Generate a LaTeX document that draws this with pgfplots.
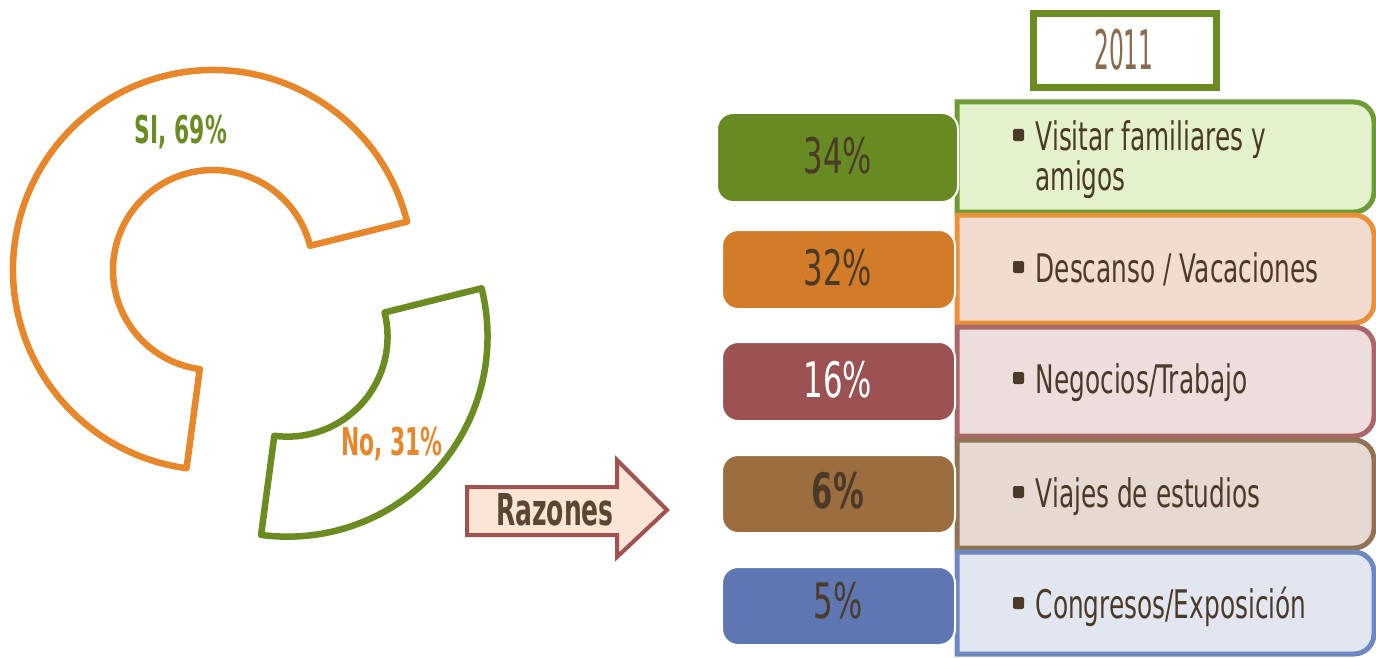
\documentclass[border=0pt]{standalone}
\usepackage{pgfplots}
\pgfplotsset{compat=1.18}
\usepackage{fontspec}
\setmainfont{DejaVu Sans}
\newfontfamily\agency[FakeStretch=0.63]{DejaVu Sans}
\newfontfamily\agencyb[FakeStretch=0.57]{DejaVu Sans}
\definecolor{dOrange}{HTML}{E8862A}
\definecolor{dGreen}{HTML}{6A8C21}
\definecolor{arrFill}{HTML}{FBE5D6}
\definecolor{arrDraw}{HTML}{A0524F}
\definecolor{txtDark}{HTML}{4B3A28}
\definecolor{txtRaz}{HTML}{5A4632}
\definecolor{yearTxt}{HTML}{8C6A4E}
\definecolor{tbFillA}{HTML}{E3F1CC}\definecolor{tbDrawA}{HTML}{6E9B35}
\definecolor{tbFillB}{HTML}{F2DCD0}\definecolor{tbDrawB}{HTML}{E8913A}
\definecolor{tbFillC}{HTML}{EDDEDD}\definecolor{tbDrawC}{HTML}{A9676A}
\definecolor{tbFillD}{HTML}{E5D9D1}\definecolor{tbDrawD}{HTML}{927255}
\definecolor{tbFillE}{HTML}{E1E6F1}\definecolor{tbDrawE}{HTML}{6E88C2}
\definecolor{pcA}{HTML}{678A22}
\definecolor{pcB}{HTML}{D27C29}
\definecolor{pcC}{HTML}{9C5152}
\definecolor{pcD}{HTML}{9C6D3F}
\definecolor{pcE}{HTML}{5E76B2}
% donut data (percent)
\def\valSI{69}
\def\valNo{31}
\def\startAng{14}
\pgfmathsetmacro\midAng{\startAng+3.6*\valSI}
\pgfmathsetmacro\endAng{\midAng+3.6*\valNo}
\pgfmathsetmacro\bisAng{(\midAng+\endAng)/2}
\pgfmathsetmacro\exCx{213+100*cos(\bisAng)}
\pgfmathsetmacro\exCy{387+100*sin(\bisAng)}
% annular sector: cx, cy, start, end, colour
\newcommand{\sector}[5]{%
  \draw[#5, line width=0.65mm, line join=round]
    (axis cs:{#1+200*cos(#3)},{#2+200*sin(#3)})
    arc[start angle=#3, end angle=#4, radius=20mm]
    -- (axis cs:{#1+100*cos(#4)},{#2+100*sin(#4)})
    arc[start angle=#4, end angle=#3, radius=10mm] -- cycle;}
% text box (right rounded): bottom, top, fill, draw
\newcommand{\tbox}[4]{%
  \draw[fill=#3, draw=#4, line width=0.5mm]
    (axis cs:957,#1) -- (axis cs:957,#2) [rounded corners=2mm] -- (axis cs:1374,#2) -- (axis cs:1374,#1) [sharp corners] -- cycle;}
% percent box: left, right, bottom, top, fill
\newcommand{\pbox}[5]{%
  \draw[fill=#5, draw=white, line width=0.2mm, rounded corners=1.6mm]
    (axis cs:#1,#3) rectangle (axis cs:#2,#4);}
\newcommand{\bul}[1]{%
  \fill[txtDark, rounded corners=0.2mm] (axis cs:1013,{#1-6}) rectangle (axis cs:1024,{#1+6});}
\tikzset{lab/.style={anchor=base west, inner sep=0pt, text=txtDark,
  font=\agency\fontsize{11.2}{13}\selectfont},
  pct/.style={anchor=base, inner sep=0pt, text=txtDark,
  font=\agency\fontsize{13.9}{16}\selectfont}}
\begin{document}
\begin{tikzpicture}
\begin{axis}[scale only axis, width=13.76cm, height=6.57cm,
  xmin=0, xmax=1376, ymin=0, ymax=657, hide axis, clip=true]
% donut
\sector{213}{387}{\startAng}{\midAng}{dOrange}
\sector{\exCx}{\exCy}{\midAng}{\endAng}{dGreen}
\node[anchor=base, inner sep=0pt, text=dGreen, font=\agencyb\bfseries\fontsize{10.9}{13}\selectfont] at (axis cs:181,514) {SI, \valSI\%};
\node[anchor=base, inner sep=0pt, text=dOrange, font=\agencyb\bfseries\fontsize{10.9}{13}\selectfont] at (axis cs:392,202) {No, \valNo\%};
% arrow
\draw[fill=arrFill, draw=arrDraw, line width=0.4mm, line join=miter]
  (axis cs:467,170) -- (axis cs:617,170) -- (axis cs:617,197) -- (axis cs:667,147)
  -- (axis cs:617,100) -- (axis cs:617,122) -- (axis cs:467,122) -- cycle;
\node[anchor=base, inner sep=0pt, text=txtRaz, font=\agencyb\bfseries\fontsize{12.5}{15}\selectfont] at (axis cs:555,132) {Razones};
% year box
\draw[fill=white, draw=dGreen, line width=0.7mm] (axis cs:1033,569) rectangle (axis cs:1216,643);
\node[anchor=base, inner sep=0pt, text=yearTxt, font=\agency\fontsize{15.5}{18}\selectfont] at (axis cs:1124,587) {\scalebox{0.68}[1]{2011}};
% text boxes
\tbox{445}{555}{tbFillA}{tbDrawA}
\tbox{334}{442}{tbFillB}{tbDrawB}
\tbox{221}{330}{tbFillC}{tbDrawC}
\tbox{109}{217}{tbFillD}{tbDrawD}
\tbox{3}{105}{tbFillE}{tbDrawE}
% percent boxes
\pbox{717}{958}{455}{544}{pcA}
\pbox{722}{955}{348}{427}{pcB}
\pbox{722}{955}{236}{315}{pcC}
\pbox{722}{955}{124}{202}{pcD}
\pbox{722}{955}{12}{90}{pcE}
\node[pct] at (axis cs:838,484) {34\%};
\node[pct] at (axis cs:838,372) {32\%};
\node[pct, text=white] at (axis cs:838,260) {16\%};
\node[pct, font=\agency\bfseries\fontsize{13.9}{16}\selectfont] at (axis cs:838,149) {6\%};
\node[pct] at (axis cs:838,39) {5\%};
% labels
\bul{522}\node[lab] at (axis cs:1035,507) {Visitar familiares y};
\node[lab] at (axis cs:1035,467) {amigos};
\bul{390}\node[lab] at (axis cs:1035,375) {Descanso / Vacaciones};
\bul{279}\node[lab] at (axis cs:1035,264) {Negocios/Trabajo};
\bul{165}\node[lab] at (axis cs:1035,150) {Viajes de estudios};
\bul{54}\node[lab] at (axis cs:1035,39) {Congresos/Exposición};
\end{axis}
\pgfresetboundingbox
\path (0,0) rectangle (13.76cm,6.57cm);
\end{tikzpicture}
\end{document}
